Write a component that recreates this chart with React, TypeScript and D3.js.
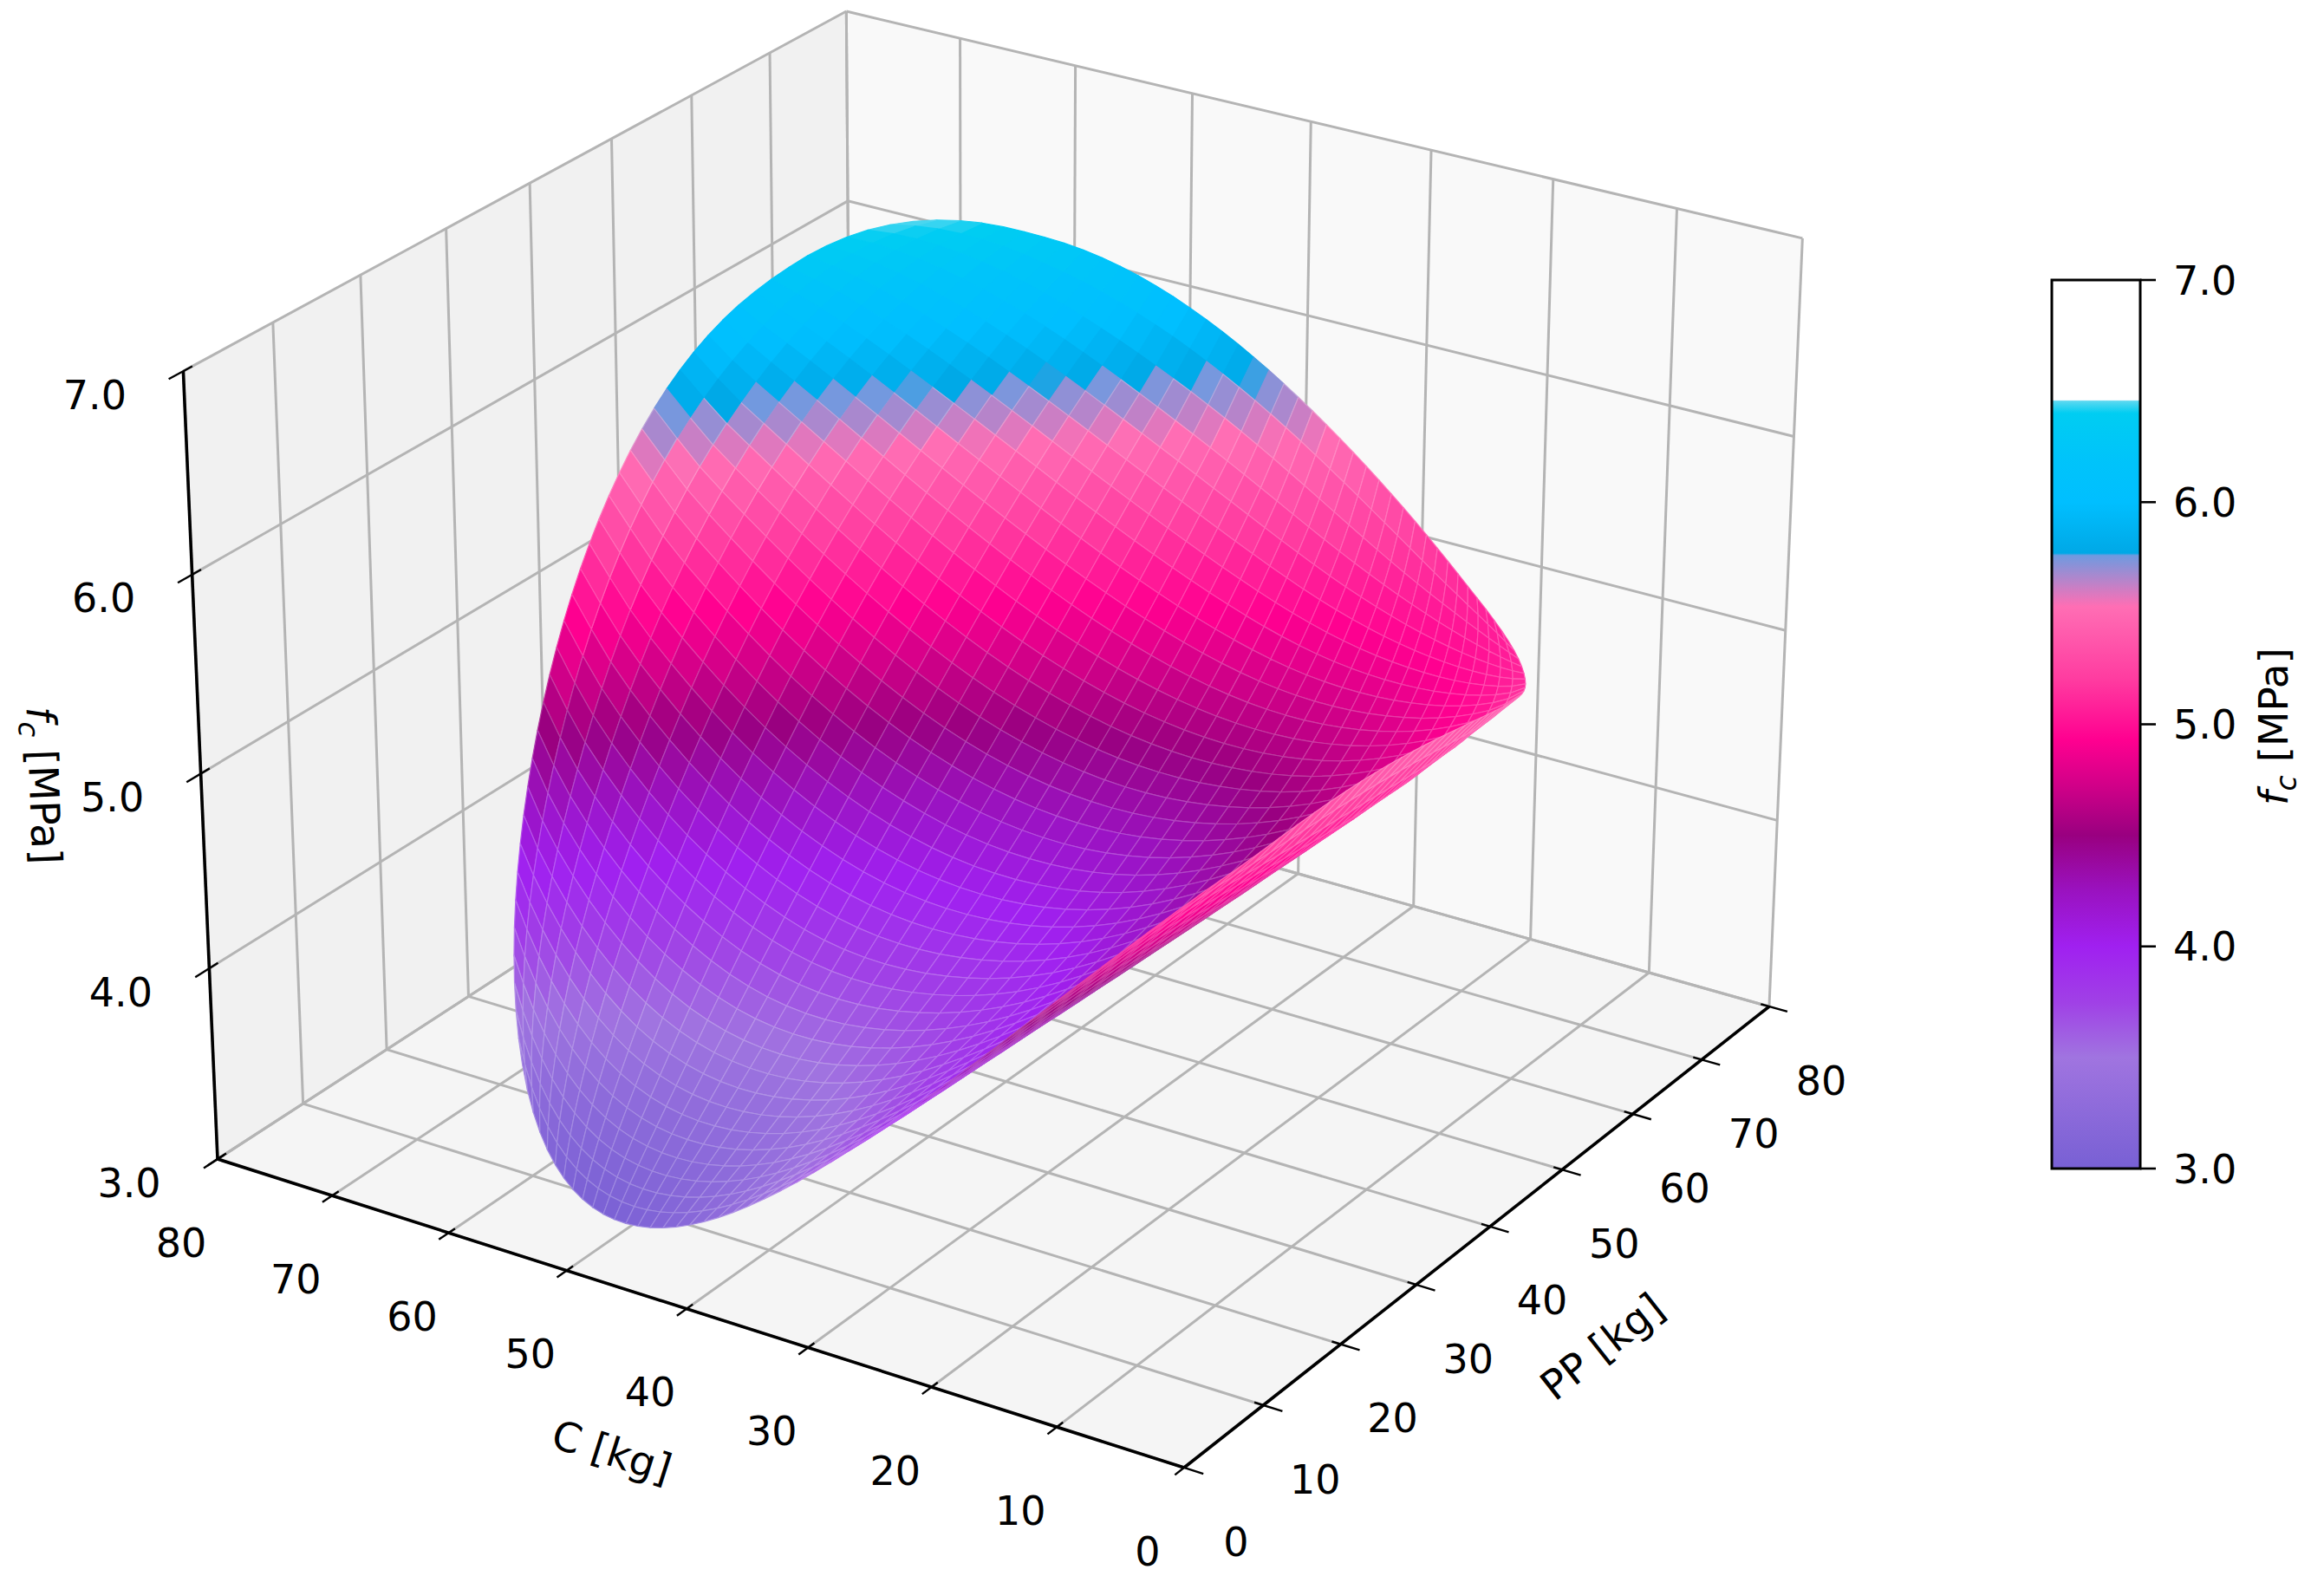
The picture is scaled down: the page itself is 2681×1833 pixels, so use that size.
import React, { useEffect, useRef } from "react";
import * as d3 from "d3";

const cTicks = [0, 10, 20, 30, 40, 50, 60, 70, 80];
const ppTicks = [0, 10, 20, 30, 40, 50, 60, 70, 80];
const fcTicks = [3, 4, 5, 6, 7];

// fc [MPa] at each C / PP tick crossing.
// rows are PP = 0..80, columns are C = 0..80
const fcRows = [
  [6.81, 5.63, 4.65, 3.88, 3.31, 2.94, 2.77, 2.8, 3.03],
  [6.43, 5.36, 4.5, 3.84, 3.38, 3.13, 3.07, 3.22, 3.57],
  [6.11, 5.17, 4.42, 3.88, 3.53, 3.39, 3.45, 3.72, 4.18],
  [5.87, 5.04, 4.41, 3.98, 3.76, 3.73, 3.91, 4.28, 4.86],
  [5.71, 4.99, 4.48, 4.16, 4.05, 4.14, 4.43, 4.93, 5.62],
  [5.62, 5.01, 4.61, 4.42, 4.42, 4.62, 5.03, 5.64, 6.45],
  [5.6, 5.11, 4.83, 4.74, 4.86, 5.18, 5.7, 6.43, 7.35],
  [5.65, 5.28, 5.11, 5.14, 5.38, 5.81, 6.45, 7.29, 8.33],
  [5.78, 5.52, 5.47, 5.61, 5.96, 6.51, 7.27, 8.22, 9.38],
];

// colour bar
const cmapValues = [3, 3.5, 3.75, 4, 4.25, 4.5, 4.72, 4.93, 5.2, 5.53, 5.76, 5.77, 6, 6.2, 6.4, 6.455, 6.46, 7];
const cmapColors = [
  "#7860d4", "#a074e0", "#a040e6", "#a020f0", "#9a12c0", "#990080", "#d00088", "#ff0090",
  "#ff3ba0", "#ff6eb4", "#6f9ae0", "#00a8e6", "#00bfff", "#00c4fa", "#00cdf2", "#5cd8f0", "#ffffff", "#ffffff",
];

const W = 2681;
const H = 1833;

const scaleC = d3.scaleLinear().domain([0, 80]).range([0, 1]);
const scalePP = d3.scaleLinear().domain([0, 80]).range([0, 1]);
const scaleFc = d3.scaleLinear().domain([3, 7]).range([0, 1]);
const cmap = d3.scaleLinear<string>().domain(cmapValues).range(cmapColors).interpolate(d3.interpolateRgb).clamp(true);

// camera fitted to the box corners of the plot
const project = (C: number, PP: number, fc: number) => {
  const a = scaleC(C);
  const b = scalePP(PP);
  const c = scaleFc(fc);
  const w = 1 + 0.061 * a + 0.096 * b - 0.045 * c;
  return [(1366 - 1099.7 * a + 870.9 * b - 51.5 * c) / w, (1693 - 274.4 * a - 420.5 * b - 983.6 * c) / w, w];
};

const catmull = (p0: number, p1: number, p2: number, p3: number, t: number) =>
  0.5 * (2 * p1 + (p2 - p0) * t + (2 * p0 - 5 * p1 + 4 * p2 - p3) * t * t + (3 * p1 - p0 - 3 * p2 + p3) * t * t * t);

// smooth reading of the table between its nodes, only used to draw the small facets
const fcAt = (C: number, PP: number) => {
  const n = fcRows.length - 1;
  const fx = Math.min(C / 10, n - 1e-6);
  const fy = Math.min(PP / 10, n - 1e-6);
  const i = Math.floor(fx);
  const j = Math.floor(fy);
  const row = (r: number) => {
    const R = fcRows[Math.max(0, Math.min(n, r))];
    return catmull(R[Math.max(0, i - 1)], R[i], R[i + 1], R[Math.min(n, i + 2)], fx - i);
  };
  return catmull(row(j - 1), row(j), row(j + 1), row(j + 2), fy - j);
};

const App = () => {
  const chartRef = useRef<SVGSVGElement>(null);

  useEffect(() => {
    const svg = d3.select(chartRef.current);
    svg.selectAll("*").remove();

    const line = d3.line();
    const pt = (C: number, PP: number, fc: number) => project(C, PP, fc).slice(0, 2) as [number, number];
    const font = "DejaVu Sans";

    // panes
    const panes = [
      { fill: "#f5f5f5", p: [pt(0, 0, 3), pt(80, 0, 3), pt(80, 80, 3), pt(0, 80, 3)] },
      { fill: "#f1f1f1", p: [pt(80, 0, 3), pt(80, 80, 3), pt(80, 80, 7), pt(80, 0, 7)] },
      { fill: "#f9f9f9", p: [pt(80, 80, 3), pt(0, 80, 3), pt(0, 80, 7), pt(80, 80, 7)] },
    ];
    svg
      .append("g")
      .selectAll("path")
      .data(panes)
      .join("path")
      .attr("d", (d) => line(d.p) + "Z")
      .attr("fill", (d) => d.fill);

    // grid lines on the three panes
    const grid: [number, number][][] = [];
    cTicks.forEach((c) => {
      grid.push([pt(c, 0, 3), pt(c, 80, 3)]);
      grid.push([pt(c, 80, 3), pt(c, 80, 7)]);
    });
    ppTicks.forEach((p) => {
      grid.push([pt(0, p, 3), pt(80, p, 3)]);
      grid.push([pt(80, p, 3), pt(80, p, 7)]);
    });
    fcTicks.forEach((f) => {
      grid.push([pt(80, 0, f), pt(80, 80, f)]);
      grid.push([pt(80, 80, f), pt(0, 80, f)]);
    });
    svg
      .append("g")
      .attr("fill", "none")
      .attr("stroke", "#b4b4b4")
      .attr("stroke-width", 3)
      .selectAll("path")
      .data(grid)
      .join("path")
      .attr("d", (d) => line(d));

    // axes and ticks
    const axes = svg.append("g").attr("stroke", "#000").attr("fill", "none");
    const black = [
      [pt(0, 0, 3), pt(80, 0, 3)],
      [pt(0, 0, 3), pt(0, 80, 3)],
      [pt(80, 0, 3), pt(80, 0, 7)],
    ];
    axes.selectAll("path.axis").data(black).join("path").attr("class", "axis").attr("stroke-width", 3.6).attr("d", (d) => line(d));
    const tickSegs = [
      ...cTicks.map((c) => [pt(c, -1.15, 3), pt(c, 0.75, 3)]),
      ...ppTicks.map((p) => [pt(-1.5, p, 3), pt(0.7, p, 3)]),
      ...fcTicks.map((f) => [pt(80, -1.6, f), pt(80, 1, f)]),
    ];
    axes.selectAll("path.tick").data(tickSegs).join("path").attr("class", "tick").attr("stroke-width", 2.4).attr("d", (d) => line(d as [number, number][]));

    // surface: mesh over the disc of mixes, far facets first
    const N = 40;
    const R = 35.5;
    const nodes: number[][][] = d3.range(N + 1).map((i) =>
      d3.range(N + 1).map((j) => {
        const u = (i / N) * 2 - 1;
        const v = (j / N) * 2 - 1;
        const C = 39.5 + R * u * Math.sqrt(1 - (v * v) / 2);
        const PP = 40.5 + R * v * Math.sqrt(1 - (u * u) / 2);
        const fc = fcAt(C, PP);
        return [...project(C, PP, fc), fc];
      })
    );
    const facets: { d: string; fc: number; w: number }[] = [];
    for (let i = 0; i < N; i++) {
      for (let j = 0; j < N; j++) {
        const q = [nodes[i][j], nodes[i + 1][j], nodes[i + 1][j + 1], nodes[i][j + 1]];
        facets.push({
          d: line(q.map((n) => [n[0], n[1]] as [number, number])) + "Z",
          fc: Math.min(d3.mean(q, (n) => n[3]) as number, 6.45),
          w: d3.mean(q, (n) => n[2]) as number,
        });
      }
    }
    facets.sort((p, q) => q.w - p.w);
    svg
      .append("g")
      .attr("stroke-width", 1.2)
      .attr("stroke-linejoin", "round")
      .selectAll("path")
      .data(facets)
      .join("path")
      .attr("d", (d) => d.d)
      .attr("fill", (d) => cmap(d.fc))
      .attr("stroke", (d) => (d.fc > 5.7 ? cmap(d.fc) : d3.interpolateRgb(cmap(d.fc), "#fff")(0.24)));

    // tick labels
    const labels = svg
      .append("g")
      .attr("font-family", font)
      .attr("font-size", 46)
      .attr("fill", "#000")
      .attr("text-anchor", "middle");
    const addLabels = (data: number[], place: (d: number) => [number, number], fmt: (d: number) => string) =>
      labels
        .append("g")
        .selectAll("text")
        .data(data)
        .join("text")
        .attr("x", (d) => place(d)[0])
        .attr("y", (d) => place(d)[1])
        .attr("dy", "0.36em")
        .text(fmt);
    addLabels(cTicks, (d) => { const p = pt(d, 0, 3); return [p[0] - 42, p[1] + 96]; }, String);
    addLabels(ppTicks, (d) => { const p = pt(0, d, 3); return [p[0] + 60, p[1] + 85]; }, String);
    addLabels(fcTicks, (d) => { const p = pt(80, 0, d); return [p[0] - 102, p[1] + 27]; }, d3.format(".1f"));

    // axis titles
    const title = (x: number, y: number, angle: number) =>
      svg
        .append("text")
        .attr("transform", `translate(${x},${y}) rotate(${angle})`)
        .attr("text-anchor", "middle")
        .attr("dy", "0.36em")
        .attr("font-family", font)
        .attr("font-size", 47);
    title(706, 1674, 17.7).text("C [kg]");
    title(1848, 1553, -38.2).text("PP [kg]");
    const fcTitle = (t: d3.Selection<SVGTextElement, unknown, null, undefined>) => {
      t.append("tspan").attr("font-style", "italic").text("f");
      t.append("tspan").attr("font-style", "italic").attr("font-size", 33).attr("dy", 10).text("c");
      t.append("tspan").attr("dy", -10).text(" [MPa]");
    };
    title(51, 906, 87.8).call(fcTitle as any);

    // colour bar
    const barX = 2367;
    const barW = 102;
    const barY = d3.scaleLinear().domain([3, 7]).range([1348, 323]);
    const defs = svg.append("defs");
    const grad = defs.append("linearGradient").attr("id", "fcbar").attr("x1", 0).attr("x2", 0).attr("y1", 1).attr("y2", 0);
    cmapValues.forEach((v, i) => {
      grad.append("stop").attr("offset", (v - 3) / 4).attr("stop-color", cmapColors[i]);
    });
    svg.append("rect").attr("x", barX).attr("y", barY(7)).attr("width", barW).attr("height", barY(3) - barY(7)).attr("fill", "url(#fcbar)").attr("stroke", "#000").attr("stroke-width", 3);
    const bar = svg.append("g");
    bar.selectAll("line").data(fcTicks).join("line").attr("x1", barX + barW).attr("x2", barX + barW + 18).attr("y1", (d) => barY(d)).attr("y2", (d) => barY(d)).attr("stroke", "#000").attr("stroke-width", 2.6);
    bar.selectAll("text").data(fcTicks).join("text").attr("x", 2507).attr("y", (d) => barY(d)).attr("dy", "0.36em").attr("font-family", font).attr("font-size", 46).text(d3.format(".1f"));
    title(2622, 838, -90).call(fcTitle as any);
  }, []);

  return <svg ref={chartRef} width={W} height={H} style={{ position: "absolute", left: 0, top: 0, background: "#fff" }} />;
};

export default App;
